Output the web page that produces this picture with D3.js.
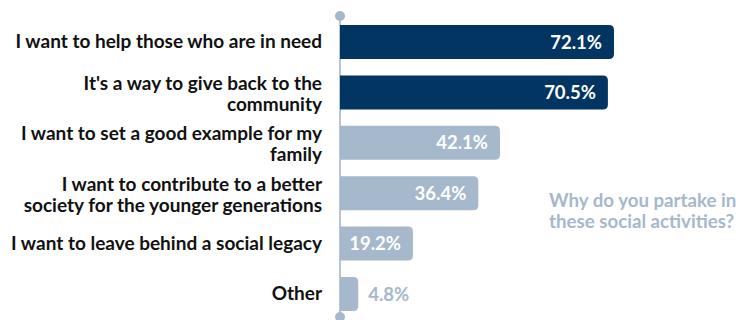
<!DOCTYPE html>
<html>
<head>
<meta charset="utf-8">
<script src="https://cdn.jsdelivr.net/npm/d3@7"></script>
<style>
  html, body { margin: 0; padding: 0; background: #fff; }
  svg { display: block; font-family: Lato, "Open Sans", sans-serif; font-weight: bold; }
</style>
</head>
<body>
<svg id="chart" width="742" height="320"></svg>
<script>
// Reasons for taking part in social activities (% of respondents)
const categories = [
  ["I want to help those who are in need"],
  ["It's a way to give back to the", "community"],
  ["I want to set a good example for my", "family"],
  ["I want to contribute to a better", "society for the younger generations"],
  ["I want to leave behind a social legacy"],
  ["Other"]
];
const values = [72.1, 70.5, 42.1, 36.4, 19.2, 4.8];
const highlighted = [true, true, false, false, false, false];
const titleLines = ["Why do you partake in", "these social activities?"];

const DARK = "#023562";
const LIGHT = "#A6B8CB";
const AXIS = "#B7C5D3";

const svg = d3.select("#chart");

const x = d3.scaleLinear().domain([0, 100]).range([340, 720]);
const y = d3.scaleBand()
  .domain(d3.range(values.length))
  .range([16.8, 319.2])
  .paddingInner(0.325)
  .paddingOuter(0.1627);

// vertical baseline with round end caps
svg.append("line")
  .attr("x1", x(0)).attr("x2", x(0))
  .attr("y1", 16).attr("y2", 317)
  .attr("stroke", AXIS).attr("stroke-width", 2);
svg.selectAll("circle.cap")
  .data([16, 317])
  .join("circle")
  .attr("class", "cap")
  .attr("cx", x(0)).attr("cy", d => d).attr("r", 5)
  .attr("fill", LIGHT);

// bars: square at the axis, rounded at the end
const r = 5;
function barPath(v, i) {
  const x0 = x(0), x1 = x(v), y0 = y(i), h = y.bandwidth();
  const rr = Math.min(r, (x1 - x0));
  return `M${x0},${y0} H${x1 - rr} Q${x1},${y0} ${x1},${y0 + rr} V${y0 + h - rr} Q${x1},${y0 + h} ${x1 - rr},${y0 + h} H${x0} Z`;
}
svg.selectAll("path.bar")
  .data(values)
  .join("path")
  .attr("class", "bar")
  .attr("d", (v, i) => barPath(v, i))
  .attr("fill", (v, i) => highlighted[i] ? DARK : LIGHT);

// value labels: inside the bar when it fits, outside otherwise
svg.selectAll("text.val")
  .data(values)
  .join("text")
  .attr("class", "val")
  .attr("font-size", 18.5)
  .attr("y", (v, i) => y(i) + y.bandwidth() / 2)
  .attr("dy", "0.36em")
  .each(function (v, i) {
    const t = d3.select(this);
    const inside = x(v) - x(0) > 40;
    t.attr("x", inside ? x(v) - 12 : x(v) + 10)
     .attr("text-anchor", inside ? "end" : "start")
     .attr("fill", inside ? "#fff" : LIGHT)
     .text(d3.format(".1f")(v) + "%");
  });

// category labels
const lh = 21;
svg.selectAll("text.cat")
  .data(categories)
  .join("text")
  .attr("class", "cat")
  .attr("font-size", 19)
  .attr("fill", "#111")
  .attr("text-anchor", "end")
  .each(function (lines, i) {
    const cy = y(i) + y.bandwidth() / 2;
    const top = cy + 6 - (lines.length - 1) * lh / 2 + (lines.length > 1 ? 2 : 0);
    d3.select(this).selectAll("tspan")
      .data(lines)
      .join("tspan")
      .attr("x", 322)
      .attr("y", (d, j) => top + j * lh)
      .text(d => d);
  });

// question text
svg.append("text")
  .attr("font-size", 18.7)
  .attr("fill", LIGHT)
  .selectAll("tspan")
  .data(titleLines)
  .join("tspan")
  .attr("x", 549)
  .attr("y", (d, j) => 207 + j * 21)
  .text(d => d);
</script>
</body>
</html>
